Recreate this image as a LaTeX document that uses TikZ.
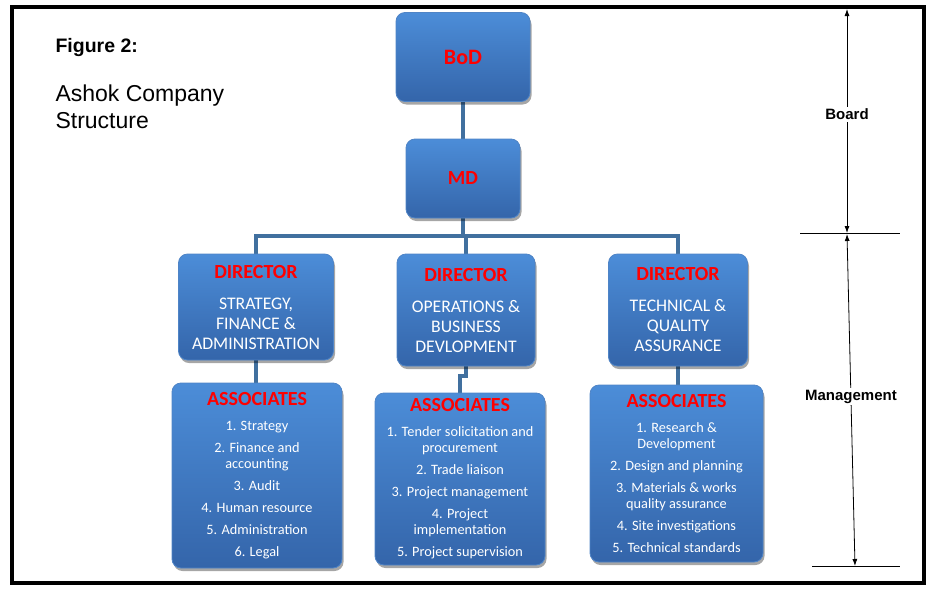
\documentclass[tikz,border=0pt]{standalone}
\usepackage{fontspec}
\setmainfont{Liberation Sans}
\newfontfamily\boxfont{Carlito}
\usetikzlibrary{positioning,arrows.meta,calc,shadows,backgrounds}
\definecolor{boxTop}{HTML}{4C8DD8}
\definecolor{boxBot}{HTML}{3465AA}
\definecolor{boxDraw}{HTML}{4F84C6}
\definecolor{linkCol}{HTML}{41709F}
\definecolor{headCol}{HTML}{FF0000}
\newcommand{\boxhead}[2]{{\color{headCol}\fontsize{#1}{#1}\selectfont\bfseries #2}}

\begin{document}
\begin{tikzpicture}[
  x=1pt, y=-1pt,
  orgbox/.style={rounded corners=9pt, top color=boxTop, bottom color=boxBot, draw=boxDraw,
                 line width=0.8pt, align=center, text=white, inner sep=2pt,
                 drop shadow={shadow xshift=1.5pt, shadow yshift=-3pt, opacity=0.35, fill=black}},
  dirbox/.style={orgbox, font=\boxfont\fontsize{17.7}{20}\selectfont},
  asbox/.style={orgbox, font=\boxfont\fontsize{14.3}{16}\selectfont},
  link/.style={draw=linkCol, line width=4pt},
  dim/.style={{Latex[length=7pt,width=5pt]}-{Latex[length=7pt,width=5pt]}, line width=0.8pt},
  lbl/.style={font=\fontsize{15}{18}\selectfont\bfseries, fill=white, inner sep=2pt},
]
\useasboundingbox (0,0) rectangle (943,600);

% ---- Frame ----
\draw[line width=4pt] (12,7) rectangle (924,583);

% ---- Title ----
\node[anchor=base west, font=\fontsize{19.5}{23}\selectfont\bfseries] (fig) at (52,52) {Figure 2:};
\node[anchor=base west, align=left, font=\fontsize{23}{27}\selectfont] (ttl) at (52,128) {Ashok Company\\Structure};

% ---- Top levels ----
\node[orgbox, minimum width=134pt, minimum height=89pt] (bod) at (463,57)    {\boxfont\boxhead{22}{BoD}};
\node[orgbox, minimum width=114pt, minimum height=79pt] (md)  at (463,178.5) {\boxfont\boxhead{20}{MD}};

% ---- Directors ----
\node[dirbox, minimum width=155pt, minimum height=106pt] (dir1) at (256,307)
  {\boxhead{20}{DIRECTOR}\\[11pt]STRATEGY,\\FINANCE \&\\ADMINISTRATION};
\node[dirbox, minimum width=138pt, minimum height=112pt] (dir2) at (466,310)
  {\boxhead{20}{DIRECTOR}\\[11pt]OPERATIONS \&\\BUSINESS\\DEVLOPMENT};
\node[dirbox, minimum width=139pt, minimum height=112pt] (dir3) at (678,310)
  {\boxhead{20}{DIRECTOR}\\[11pt]TECHNICAL \&\\QUALITY\\ASSURANCE};

% ---- Associates ----
\node[asbox, minimum width=170pt, minimum height=185pt] (as1) at (257,475.5)
  {\boxhead{20}{ASSOCIATES}\\[9pt]1. Strategy\\[6pt]2. Finance and\\accounting\\[6pt]3. Audit\\[6pt]
   4. Human resource\\[6pt]5. Administration\\[6pt]6. Legal};
\node[asbox, minimum width=170pt, minimum height=172pt] (as2) at (460,479)
  {\boxhead{20}{ASSOCIATES}\\[9pt]1. Tender solicitation and\\procurement\\[6pt]2. Trade liaison\\[6pt]
   3. Project management\\[6pt]4. Project\\implementation\\[6pt]5. Project supervision};
\node[asbox, minimum width=173pt, minimum height=177pt] (as3) at (676.5,473.5)
  {\boxhead{20}{ASSOCIATES}\\[9pt]1. Research \&\\Development\\[6pt]2. Design and planning\\[6pt]
   3. Materials \& works\\quality assurance\\[6pt]4. Site investigations\\[6pt]5. Technical standards};

% ---- Connectors (behind boxes) ----
\begin{scope}[on background layer]
  \coordinate (bus) at ([yshift=-18pt]md.south);
  \draw[link] (bod) -- (md);
  \draw[link] (md) -- (bus);
  \draw[link] (dir1.north) |- (bus) -| (dir3.north);
  \draw[link] (dir2.north) -- (dir2.north |- bus);
  \draw[link] (dir1.south) -- (dir1.south |- as1.north);
  \draw[link] (dir2.south) -- ++(0,10) -| (as2.north);
  \draw[link] (dir3.south) -- (dir3.south |- as3.north);
\end{scope}

% ---- Board / Management span ----
\coordinate (brdTop) at (847,9);
\coordinate (brdMid) at (847,233);
\coordinate (mgtTop) at (847,234);
\coordinate (mgtBot) at (855,566);
\draw[line width=0.8pt] (800,233) -- (900,233);
\draw[line width=0.8pt] (812,566) -- (900,566);
\draw[dim] (brdTop) -- (brdMid) node[lbl, pos=0.47] {Board};
\draw[dim] (mgtTop) -- (mgtBot) node[lbl, pos=0.49] {Management};

\end{tikzpicture}
\end{document}
